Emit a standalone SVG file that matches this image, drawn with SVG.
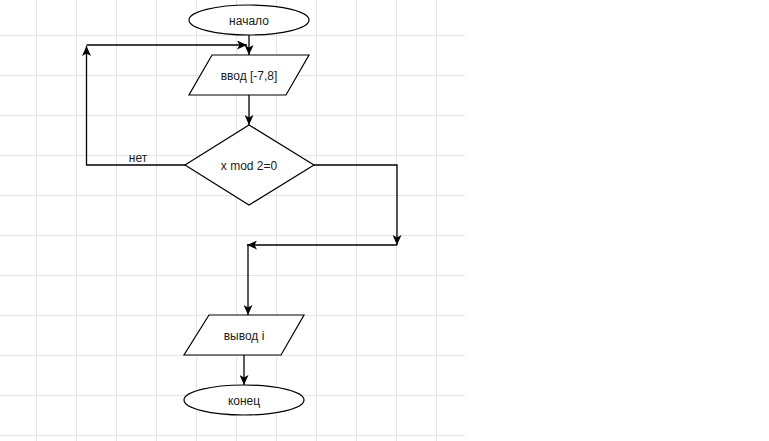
<svg xmlns="http://www.w3.org/2000/svg" width="769" height="441" viewBox="0 0 769 441">
<style>
.grid line{stroke:#e4e4e4;stroke-width:1}
.shape{fill:#ffffff;stroke:#000000;stroke-width:1.2}
.edge{fill:none;stroke:#000000;stroke-width:1.3}
.lbl{font-family:"Liberation Sans",Arial,sans-serif;font-size:12px;fill:#1a1a1a;text-anchor:middle}
</style>
<defs>
<marker id="arr" markerUnits="userSpaceOnUse" markerWidth="10" markerHeight="9" viewBox="0 0 10 9" refX="10" refY="4.5" orient="auto">
<path d="M0,0 L10,4.5 L0,9 L2.5,4.5 z" fill="#000"/>
</marker>
</defs>
<rect width="769" height="441" fill="#ffffff"/>
<g class="grid">
<line x1="36.5" y1="0" x2="36.5" y2="441"/><line x1="76.5" y1="0" x2="76.5" y2="441"/><line x1="116.5" y1="0" x2="116.5" y2="441"/><line x1="156.5" y1="0" x2="156.5" y2="441"/><line x1="196.5" y1="0" x2="196.5" y2="441"/><line x1="236.5" y1="0" x2="236.5" y2="441"/><line x1="276.5" y1="0" x2="276.5" y2="441"/><line x1="316.5" y1="0" x2="316.5" y2="441"/><line x1="356.5" y1="0" x2="356.5" y2="441"/><line x1="396.5" y1="0" x2="396.5" y2="441"/><line x1="436.5" y1="0" x2="436.5" y2="441"/>
<line x1="0" y1="35.5" x2="465" y2="35.5"/><line x1="0" y1="75.5" x2="465" y2="75.5"/><line x1="0" y1="115.5" x2="465" y2="115.5"/><line x1="0" y1="155.5" x2="465" y2="155.5"/><line x1="0" y1="195.5" x2="465" y2="195.5"/><line x1="0" y1="235.5" x2="465" y2="235.5"/><line x1="0" y1="275.5" x2="465" y2="275.5"/><line x1="0" y1="315.5" x2="465" y2="315.5"/><line x1="0" y1="355.5" x2="465" y2="355.5"/><line x1="0" y1="395.5" x2="465" y2="395.5"/><line x1="0" y1="435.5" x2="465" y2="435.5"/>
</g>
<g id="connectors">
<path class="edge" d="M249,35 V55" marker-end="url(#arr)"/>
<path class="edge" d="M185,165 H86.5 V46" marker-end="url(#arr)"/>
<path class="edge" d="M86.5,45 H247" marker-end="url(#arr)"/>
<path class="edge" d="M249,95 V125" marker-end="url(#arr)"/>
<path class="edge" d="M314,165 H397 V245" marker-end="url(#arr)"/>
<path class="edge" d="M397,245 H247" marker-end="url(#arr)"/>
<path class="edge" d="M248,245 V315" marker-end="url(#arr)"/>
<path class="edge" d="M244,355 V385" marker-end="url(#arr)"/>
<text class="lbl" x="138" y="162">нет</text>
</g>
<g id="start">
<ellipse class="shape" cx="249" cy="20" rx="60" ry="15"/>
<text class="lbl" x="249" y="24.5">начало</text>
</g>
<g id="input">
<polygon class="shape" points="212,55 309,55 286,95 189,95"/>
<text class="lbl" x="249" y="79.5">ввод [-7,8]</text>
</g>
<g id="decision">
<polygon class="shape" points="249,125 314,165 249,205 185,165"/>
<text class="lbl" x="249" y="170">x mod 2=0</text>
</g>
<g id="output">
<polygon class="shape" points="209,315 304,315 281,355 184,355"/>
<text class="lbl" x="244" y="340">вывод i</text>
</g>
<g id="end">
<ellipse class="shape" cx="244" cy="400" rx="60" ry="15"/>
<text class="lbl" x="244" y="405">конец</text>
</g>
</svg>
